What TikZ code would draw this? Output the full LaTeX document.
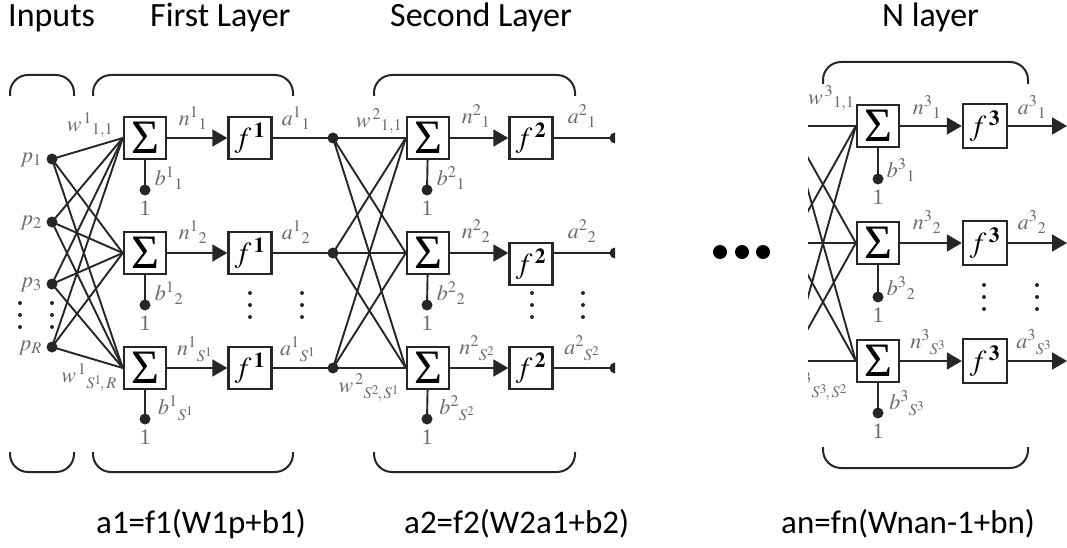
\documentclass[tikz,border=0pt]{standalone}
\usepackage{mathptmx}
\usepackage{fontspec}
\setmainfont{Liberation Serif}
\newfontfamily\hdr{Carlito}
\usetikzlibrary{arrows.meta}
\definecolor{ink}{HTML}{262626}
\definecolor{lab}{HTML}{6A6A6A}
\tikzset{
 net/.style={draw=ink, line width=1.9pt},
 sumbox/.style={draw=ink, fill=white, line width=2.4pt, minimum width=42pt, minimum height=42pt, inner sep=0pt, font=\fontsize{48}{48}\selectfont},
 funbox/.style={draw=ink, fill=white, line width=2.4pt, minimum width=43pt, minimum height=42pt, inner sep=0pt, font=\fontsize{29}{30}\selectfont},
 dotn/.style={circle, fill=ink, inner sep=0pt, minimum size=11pt},
 lbl/.style={text=lab, inner sep=0pt, font=\fontsize{22}{24}\selectfont},
 arr/.style={net, -{Triangle[length=15pt,width=17pt]}},
 hdrtext/.style={font=\hdr\fontsize{34}{38}\selectfont, anchor=base west, inner sep=0pt},
 eqtext/.style={font=\hdr\fontsize{33}{36}\selectfont, anchor=base west, inner sep=0pt},
 brk/.style={draw=ink, line width=2pt, rounded corners=18pt},
 bigdot/.style={circle, fill=black, inner sep=0pt, minimum size=14pt},
}
\newcommand{\vdotsat}[2]{\fill[ink] (#1,#2) circle (2pt) (#1,#2+12) circle (2pt) (#1,#2+24) circle (2pt);}
\begin{document}
\begin{tikzpicture}[x=1pt,y=-1pt]
\useasboundingbox (0,0) rectangle (1067,548);

% headers
\node[hdrtext] (hIn) at (8,27) {Inputs};
\node[hdrtext] (hL1) at (150,27) {First Layer};
\node[hdrtext] (hL2) at (390,27) {Second Layer};
\node[hdrtext] (hLN) at (882,27) {N layer};

% brackets
\draw[brk] (10,96) -- (10,75) -- (74,75) -- (74,96);
\draw[brk] (10,452) -- (10,472) -- (74,472) -- (74,452);
\draw[brk] (93,96) -- (93,75) -- (293,75) -- (293,96);
\draw[brk] (93,452) -- (93,472) -- (293,472) -- (293,452);
\draw[brk] (374,96) -- (374,75) -- (575,75) -- (575,96);
\draw[brk] (374,452) -- (374,472) -- (575,472) -- (575,452);
\draw[brk] (823,84) -- (823,62) -- (1028,62) -- (1028,84);
\draw[brk] (823,447) -- (823,468) -- (1028,468) -- (1028,447);

% ---------- inputs ----------
\node[dotn] (p1) at (52,159) {};
\node[dotn] (p2) at (52,222) {};
\node[dotn] (p3) at (52,284) {};
\node[dotn] (pR) at (52,347) {};
\node[lbl, anchor=east] (lp1) at (42,160) {$p_1$};
\node[lbl, anchor=east] (lp2) at (42,223) {$p_2$};
\node[lbl, anchor=east] (lp3) at (42,285) {$p_3$};
\node[lbl, anchor=east] (lpR) at (42,348) {$p_R$};
\vdotsat{20}{303}
\vdotsat{52}{303}

% ---------- first layer ----------
\node[sumbox] (S11) at (145,138) {Σ};
\node[sumbox] (S12) at (145,253) {Σ};
\node[sumbox] (S13) at (145,368) {Σ};
\node[funbox] (F11) at (250,138) {$f^{\,\mathbf{1}}$};
\node[funbox] (F12) at (250,253) {$f^{\,\mathbf{1}}$};
\node[funbox] (F13) at (250,368) {$f^{\,\mathbf{1}}$};
\node[dotn] (h1) at (333,138) {};
\node[dotn] (h2) at (333,253) {};
\node[dotn] (h3) at (333,368) {};
\foreach \i in {1,2,3,R}
  \foreach \j in {1,2,3}
    \draw[net] (p\i.center) -- (S1\j.west);
\foreach \j/\y in {1/190,2/305,3/419}{
  \node[dotn] (B1\j) at (145,\y) {};
  \draw[net] (S1\j) -- (B1\j.center);
  \node[lbl] (one1\j) at (145,\y+18) {1};
  \draw[arr] (S1\j) -- (F1\j);
  \draw[net] (F1\j) -- (h\j.center);
}
\node[lbl] (w1a) at (90,125) {$w^{\,1}{}_{1,1}$};
\node[lbl] (w1b) at (89,378) {$w^{\,1}{}_{S^1\!,\,R}$};
\node[lbl] (n11) at (193,118) {$n^{1}{}_{1}$};
\node[lbl] (n12) at (193,232) {$n^{1}{}_{2}$};
\node[lbl] (n13) at (195,349) {$n^{1}{}_{S^1}$};
\node[lbl] (a11) at (296,118) {$a^{1}{}_{1}$};
\node[lbl] (a12) at (296,232) {$a^{1}{}_{2}$};
\node[lbl] (a13) at (298,349) {$a^{1}{}_{S^1}$};
\node[lbl] (b11) at (169,178) {$b^{1}{}_{1}$};
\node[lbl] (b12) at (169,293) {$b^{1}{}_{2}$};
\node[lbl] (b13) at (176,408) {$b^{1}{}_{S^1}$};
\vdotsat{250}{293}
\vdotsat{302}{293}

% ---------- second layer ----------
\node[sumbox] (S21) at (428,138) {Σ};
\node[sumbox] (S22) at (428,253) {Σ};
\node[sumbox] (S23) at (428,368) {Σ};
\node[funbox] (F21) at (531,138) {$f^{\,\mathbf{2}}$};
\node[funbox] (F22) at (531,264) {$f^{\,\mathbf{2}}$};
\node[funbox] (F23) at (531,368) {$f^{\,\mathbf{2}}$};
\foreach \i in {1,2,3}
  \foreach \j in {1,2,3}
    \draw[net] (h\i.center) -- (S2\j.west);
\foreach \j/\y in {1/190,2/305,3/419}{
  \node[dotn] (B2\j) at (427,\y) {};
  \draw[net] (S2\j) -- (B2\j.center);
  \node[lbl] (one2\j) at (427,\y+18) {1};
}
\draw[arr] (S21) -- (F21);
\draw[arr] (S22) -- (S22 -| F22.west);
\draw[arr] (S23) -- (F23);
\begin{scope}
  \clip (0,0) rectangle (615,548);
  \node[dotn] (g1) at (615,138) {};
  \node[dotn] (g2) at (615,253) {};
  \node[dotn] (g3) at (615,368) {};
  \draw[net] (F21) -- (g1.center);
  \draw[net] (F22.east |- S22) -- (g2.center);
  \draw[net] (F23) -- (g3.center);
\end{scope}
\node[lbl] (w2a) at (379,121) {$w^{\,2}{}_{1,1}$};
\node[lbl] (w2b) at (369,388) {$w^{\,2}{}_{S^2\!,\,S^1}$};
\node[lbl] (n21) at (476,116) {$n^{2}{}_{1}$};
\node[lbl] (n22) at (476,231) {$n^{2}{}_{2}$};
\node[lbl] (n23) at (477,348) {$n^{2}{}_{S^2}$};
\node[lbl] (a21) at (582,116) {$a^{2}{}_{1}$};
\node[lbl] (a22) at (582,231) {$a^{2}{}_{2}$};
\node[lbl] (a23) at (582,348) {$a^{2}{}_{S^2}$};
\node[lbl] (b21) at (451,178) {$b^{2}{}_{1}$};
\node[lbl] (b22) at (451,293) {$b^{2}{}_{2}$};
\node[lbl] (b23) at (457,408) {$b^{2}{}_{S^2}$};
\vdotsat{532}{293}
\vdotsat{583}{293}

% ---------- ellipsis ----------
\node[bigdot] (e1) at (720,252) {};
\node[bigdot] (e2) at (742,252) {};
\node[bigdot] (e3) at (763,252) {};

% ---------- N layer ----------
\node[sumbox] (S31) at (878,126) {Σ};
\node[sumbox] (S32) at (878,243) {Σ};
\node[sumbox] (S33) at (878,361) {Σ};
\node[funbox, minimum width=44pt, minimum height=44pt] (F31) at (985,126) {$f^{\,\mathbf{3}}$};
\node[funbox, minimum width=44pt, minimum height=44pt] (F32) at (985,243) {$f^{\,\mathbf{3}}$};
\node[funbox, minimum width=44pt, minimum height=44pt] (F33) at (985,361) {$f^{\,\mathbf{3}}$};
\begin{scope}
  \clip (808,0) rectangle (1067,548);
  \coordinate (V1) at (790,126);
  \coordinate (V2) at (790,243);
  \coordinate (V3) at (790,361);
  \foreach \i in {1,2,3}
    \foreach \j in {1,2,3}
      \draw[net] (V\i) -- (S3\j.west);
  \node[lbl] (w3b) at (817,387) {$w^{\,3}{}_{S^3\!,\,S^2}$};
\end{scope}
\coordinate (E1) at (1067,126);
\coordinate (E2) at (1067,243);
\coordinate (E3) at (1067,361);
\foreach \j/\y in {1/179,2/297,3/413}{
  \node[dotn] (B3\j) at (878,\y) {};
  \draw[net] (S3\j) -- (B3\j.center);
  \node[lbl] (one3\j) at (878,\y+18) {1};
  \draw[arr] (S3\j) -- (F3\j);
  \draw[arr] (F3\j) -- (E\j);
}
\node[lbl, anchor=west] (w3a) at (808,98) {$w^{\,3}{}_{1,1}$};
\node[lbl] (n31) at (927,107) {$n^{3}{}_{1}$};
\node[lbl] (n32) at (927,222) {$n^{3}{}_{2}$};
\node[lbl] (n33) at (928,342) {$n^{3}{}_{S^3}$};
\node[lbl] (a31) at (1032,107) {$a^{3}{}_{1}$};
\node[lbl] (a32) at (1032,222) {$a^{3}{}_{2}$};
\node[lbl] (a33) at (1034,342) {$a^{3}{}_{S^3}$};
\node[lbl] (b31) at (901,170) {$b^{3}{}_{1}$};
\node[lbl] (b32) at (901,288) {$b^{3}{}_{2}$};
\node[lbl] (b33) at (907,403) {$b^{3}{}_{S^3}$};
\vdotsat{984}{285}
\vdotsat{1037}{285}

% ---------- equations ----------
\node[eqtext] (eq1) at (96,533) {a1=f1(W1p+b1)};
\node[eqtext] (eq2) at (404,533) {a2=f2(W2a1+b2)};
\node[eqtext] (eq3) at (781,533) {an=fn(Wnan-1+bn)};
\end{tikzpicture}
\end{document}
